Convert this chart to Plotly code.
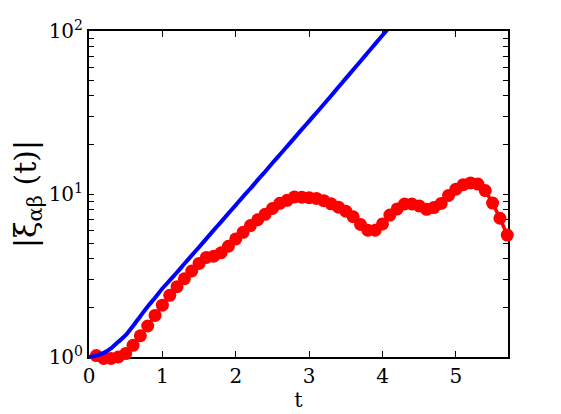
import plotly.graph_objects as go

# Blue curve
t_blue = [0.0, 0.1, 0.2, 0.3, 0.4, 0.5, 0.6, 0.7, 0.8, 0.9, 1.0, 1.1, 1.2, 1.3, 1.4,
          1.5, 1.6, 1.7, 1.8, 1.9, 2.0, 2.1, 2.2, 2.3, 2.4, 2.5, 2.6, 2.7, 2.8, 2.9,
          3.0, 3.1, 3.2, 3.3, 3.4, 3.5, 3.6, 3.7, 3.8, 3.9, 4.0, 4.1]
xi_blue = [1.0, 1.02, 1.06, 1.13, 1.24, 1.36, 1.55, 1.78, 2.04, 2.31, 2.63, 2.95, 3.31, 3.73, 4.2,
           4.72, 5.32, 6.0, 6.75, 7.6, 8.55, 9.64, 10.8, 12.2, 13.7, 15.5, 17.4, 19.6, 22.1, 24.9,
           28.0, 31.5, 35.5, 40.1, 45.3, 51.2, 57.8, 65.3, 73.8, 83.4, 94.2, 106.0]

# Red curve with circle markers
t_red = [0.1, 0.2, 0.3, 0.4, 0.5, 0.6, 0.7, 0.8, 0.9, 1.0, 1.1, 1.2, 1.3, 1.4, 1.5,
         1.6, 1.7, 1.8, 1.9, 2.0, 2.1, 2.2, 2.3, 2.4, 2.5, 2.6, 2.7, 2.8, 2.9, 3.0,
         3.1, 3.2, 3.3, 3.4, 3.5, 3.6, 3.7, 3.8, 3.9, 4.0, 4.1, 4.2, 4.3, 4.4, 4.5,
         4.6, 4.7, 4.8, 4.9, 5.0, 5.1, 5.2, 5.3, 5.4, 5.5, 5.6, 5.7]
xi_red = [1.02, 0.98, 0.98, 1.0, 1.05, 1.18, 1.35, 1.55, 1.80, 2.08, 2.39, 2.70, 3.02, 3.37, 3.75,
          4.08, 4.15, 4.36, 4.78, 5.30, 5.82, 6.40, 6.95, 7.5, 8.15, 8.77, 9.15, 9.6, 9.55, 9.5,
          9.4, 9.1, 8.7, 8.3, 7.85, 7.25, 6.5, 6.0, 6.0, 6.55, 7.43, 8.1, 8.68, 8.68, 8.45,
          8.05, 8.25, 8.75, 9.8, 10.7, 11.4, 11.7, 11.5, 10.5, 8.8, 7.1, 5.6]

x_ticks = [0, 1, 2, 3, 4, 5]
# y ticks: decades labelled, intermediate digits unlabelled
y_ticks = [1, 2, 3, 4, 5, 6, 7, 8, 9, 10, 20, 30, 40, 50, 60, 70, 80, 90, 100]
y_ticktext = ["10<sup>0</sup>", "", "", "", "", "", "", "", "",
              "10<sup>1</sup>", "", "", "", "", "", "", "", "",
              "10<sup>2</sup>"]

# layout geometry (pixels, figure coords; page adds an 8px body offset)
W, H = 553, 406
ML, MR, MT, MB = 81, 53, 23, 50
plot_h = H - MT - MB
extra = 7  # px below main axis available for markers
d = extra / plot_h
y_lo = 0.0
y_hi = 2.0
y2_lo = y_hi - (y_hi - y_lo) / (1 - d)

fig = go.Figure()
# empty trace so the main (labelled) y axis gets its subplot
fig.add_trace(go.Scatter(x=[], y=[], yaxis="y", showlegend=False, hoverinfo="skip"))
fig.add_trace(go.Scatter(x=t_red, y=xi_red, mode="lines+markers", yaxis="y2",
                         line=dict(color="#ff0000", width=3.5),
                         marker=dict(symbol="circle", size=13, color="#ff0000"),
                         cliponaxis=False, showlegend=False))
fig.add_trace(go.Scatter(x=t_blue, y=xi_blue, mode="lines", yaxis="y2",
                         line=dict(color="#0000ff", width=4, shape="spline", smoothing=0.8),
                         cliponaxis=True, showlegend=False))

font = "DejaVu Serif"
fig.update_layout(
    width=W, height=H,
    margin=dict(l=ML, r=MR, t=MT, b=MB),
    paper_bgcolor="white", plot_bgcolor="rgba(0,0,0,0)",
    font=dict(family=font, color="black"),
    xaxis=dict(range=[0, 5.71], tickvals=x_ticks, ticks="inside", ticklen=6,
               tickwidth=1, tickcolor="black", anchor="y",
               showline=True, linecolor="black", linewidth=2, mirror="ticks",
               showgrid=False, zeroline=False, automargin=False,
               tickfont=dict(size=20, family=font),
               title=dict(text="t", font=dict(size=21, family=font), standoff=2)),
    yaxis=dict(type="log", range=[y_lo, y_hi], domain=[d, 1], anchor="x",
               tickmode="array", tickvals=y_ticks, ticktext=y_ticktext,
               ticks="inside", ticklen=5, tickwidth=1, tickcolor="black",
               showline=True, linecolor="black", linewidth=2, mirror="ticks",
               showgrid=False, zeroline=False, automargin=False,
               tickfont=dict(size=20, family=font),
               title=dict(text="|ξ<sub>αβ</sub> (t)|", font=dict(size=30, family=font), standoff=4)),
    yaxis2=dict(type="log", range=[y2_lo, y_hi], domain=[0, 1], anchor="x",
                visible=False, showgrid=False, zeroline=False),
)

fig.write_html("out.html")
